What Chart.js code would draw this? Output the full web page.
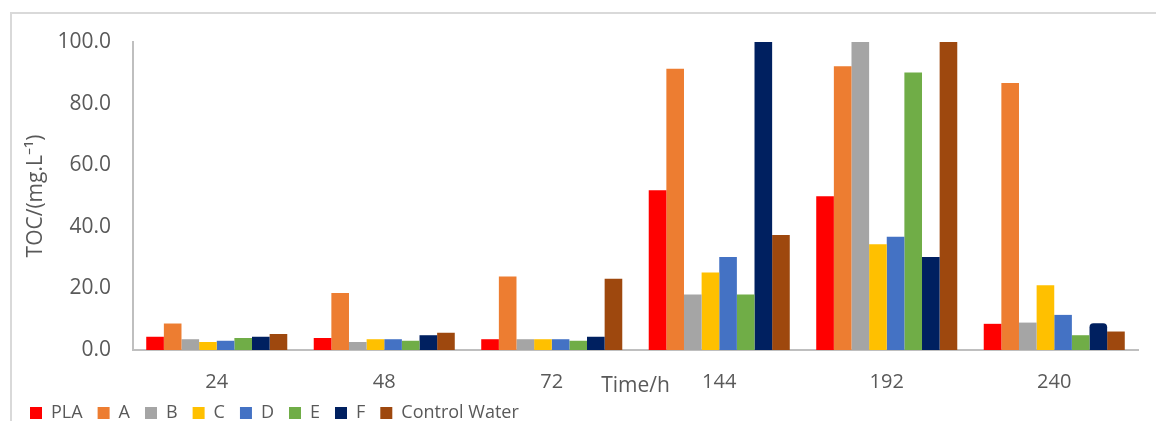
<!DOCTYPE html>
<html>
<head>
<meta charset="utf-8">
<script src="https://cdn.jsdelivr.net/npm/chart.js@4.4.1/dist/chart.umd.min.js"></script>
<style>
  html, body { margin: 0; padding: 0; background: #ffffff; }
  #wrap { position: relative; width: 1156px; height: 421px; }
</style>
</head>
<body>
<div id="wrap"><canvas id="toc" width="1156" height="421"></canvas></div>
<script>
// Sampling times (h)
const categories = ['24', '48', '72', '144', '192', '240'];

// TOC (mg/L) per sample
const PLA = [4.3, 3.9, 3.5, 51.9, 49.9, 8.5];
const A = [8.6, 18.5, 23.9, 91.3, 92.1, 86.7];
const B = [3.5, 2.6, 3.5, 18.0, 100.0, 8.9];
const C = [2.6, 3.5, 3.5, 25.2, 34.3, 21.0];
const D = [3.0, 3.5, 3.5, 30.2, 36.8, 11.4];
const E = [3.9, 3.0, 3.0, 18.0, 90.1, 4.8];
const F = [4.3, 4.8, 4.3, 100.0, 30.2, 8.7];
const controlWater = [5.2, 5.6, 23.1, 37.3, 100.0, 6.0];

const seriesNames = ['PLA', 'A', 'B', 'C', 'D', 'E', 'F', 'Control Water'];
const seriesValues = [PLA, A, B, C, D, E, F, controlWater];
const seriesColors = ['#FF0000', '#ED7D31', '#A5A5A5', '#FFC000', '#4472C4', '#70AD47', '#002060', '#9E480E'];

const yTicks = [0, 20, 40, 60, 80, 100];

const FONT = "'Open Sans', 'Liberation Sans', sans-serif";
const TEXT = '#595959';

const datasets = seriesNames.map((name, i) => ({
  label: name,
  data: seriesValues[i],
  backgroundColor: seriesColors[i],
  borderWidth: 0,
  borderRadius: name === 'F' ? (c => (c.dataIndex === 5 ? 4 : 0)) : 0,
  borderSkipped: 'bottom'
}));

// light frame around the chart area
const framePlugin = {
  id: 'frame',
  beforeDraw(chart) {
    const ctx = chart.ctx;
    ctx.save();
    ctx.fillStyle = '#ffffff';
    ctx.fillRect(0, 0, chart.width, chart.height);
    ctx.strokeStyle = '#D9D9D9';
    ctx.lineWidth = 2;
    ctx.beginPath();
    ctx.moveTo(11, chart.height + 5);
    ctx.lineTo(11, 13);
    ctx.lineTo(chart.width + 5, 13);
    ctx.stroke();
    ctx.restore();
  }
};

new Chart(document.getElementById('toc'), {
  type: 'bar',
  data: { labels: categories, datasets },
  plugins: [framePlugin],
  options: {
    responsive: false,
    animation: false,
    devicePixelRatio: 1,
    layout: { padding: { left: 15, right: 18, top: 42, bottom: -11 } },
    datasets: {
      bar: { categoryPercentage: 0.842, barPercentage: 1.0 }
    },
    plugins: {
      tooltip: { enabled: false },
      legend: {
        position: 'bottom',
        align: 'start',
        labels: {
          boxWidth: 12,
          boxHeight: 12,
          padding: 15,
          color: TEXT,
          font: { family: FONT, size: 18 }
        }
      }
    },
    scales: {
      x: {
        grid: { display: false, drawTicks: false },
        border: { display: true, color: '#BFBFBF', width: 2 },
        ticks: { color: TEXT, padding: 20, font: { family: FONT, size: 20 } },
        title: {
          display: true,
          text: 'Time/h',
          color: TEXT,
          font: { family: FONT, size: 21 },
          padding: { top: 0, bottom: -10 }
        },
        afterFit(scale) { scale.height = 39; }
      },
      y: {
        min: 0,
        max: 100,
        grid: { display: false, drawTicks: false },
        border: { display: true, color: '#BFBFBF', width: 2 },
        afterBuildTicks(scale) { scale.ticks = yTicks.map(v => ({ value: v })); },
        ticks: {
          color: TEXT,
          padding: 22,
          font: { family: FONT, size: 21 },
          callback: v => Number(v).toFixed(1)
        },
        title: {
          display: true,
          text: 'TOC/(mg.L⁻¹)',
          color: TEXT,
          font: { family: FONT, size: 21 },
          padding: { top: 8, bottom: 0 }
        },
        afterFit(scale) { scale.width = 118; }
      }
    }
  }
});
</script>
</body>
</html>
